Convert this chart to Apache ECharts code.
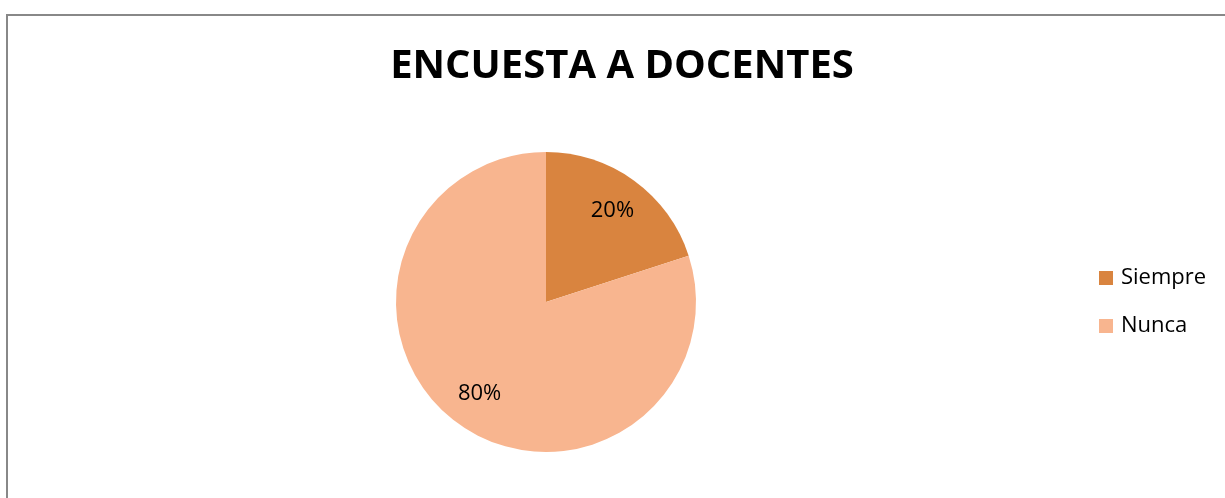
<!DOCTYPE html>
<html>
<head>
<meta charset="utf-8">
<script src="https://cdn.jsdelivr.net/npm/echarts@6/dist/echarts.min.js"></script>
<style>
html,body{margin:0;padding:0;background:#fff;}
#chart{width:1225px;height:498px;}
</style>
</head>
<body>
<div id="chart"></div>
<script>
const titleText = 'ENCUESTA A DOCENTES';
const categories = ['Siempre', 'Nunca'];
const values = [20, 80];
const colors = ['#D9843F', '#F8B58F'];

const data = categories.map((c, i) => ({ name: c, value: values[i], itemStyle: { color: colors[i] } }));
const labelData = categories.map((c, i) => ({ name: c, value: values[i], itemStyle: { color: 'rgba(0,0,0,0)' } }));

const chart = echarts.init(document.getElementById('chart'), null, { renderer: 'canvas' });
chart.setOption({
  animation: false,
  backgroundColor: '#fff',
  graphic: [
    { type: 'rect', shape: { x: 7, y: 15, width: 1400, height: 700 }, style: { fill: 'none', stroke: '#888', lineWidth: 2 }, silent: true, z: -1 },
    { type: 'text', x: 622, y: 67, style: { text: titleText, fontFamily: 'Open Sans', fontWeight: 'bold', fontSize: 40, fill: '#000', textAlign: 'center', textVerticalAlign: 'middle' } }
  ],
  legend: {
    orient: 'vertical',
    left: 1094,
    top: 262,
    itemWidth: 14,
    itemHeight: 14,
    itemGap: 26,
    icon: 'rect',
    data: categories,
    textStyle: { fontFamily: 'Open Sans', fontSize: 22, lineHeight: 22, color: '#000', padding: [0, 0, 0, 3] }
  },
  series: [
    {
      type: 'pie',
      center: [546, 302],
      radius: 150,
      startAngle: 90,
      clockwise: true,
      label: { show: false },
      labelLine: { show: false },
      silent: true,
      data: data
    },
    {
      type: 'pie',
      center: [546, 302],
      radius: [70, 150],
      startAngle: 90,
      clockwise: true,
      silent: true,
      label: {
        show: true,
        position: 'inside',
        formatter: p => p.value + '%',
        fontFamily: 'Open Sans',
        fontSize: 22,
        color: '#000'
      },
      labelLine: { show: false },
      data: labelData
    }
  ]
});
</script>
</body>
</html>
